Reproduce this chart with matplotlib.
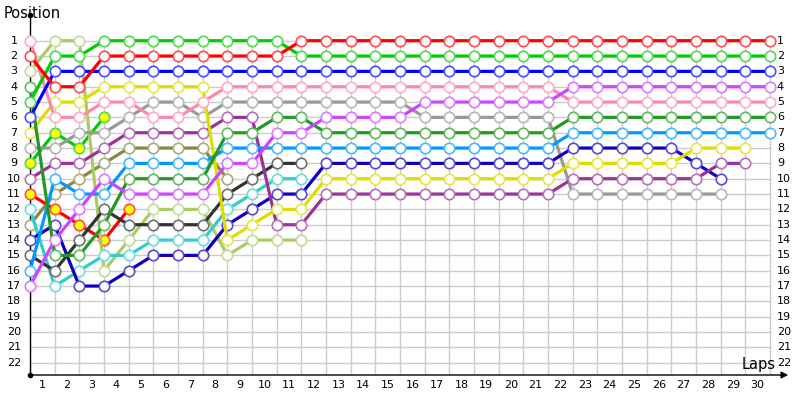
import matplotlib.pyplot as plt
from matplotlib.colors import to_rgb

# positions per lap, index 0 = start grid
red = [2, 4, 4, 2, 2, 2, 2, 2, 2, 2, 2, 1, 1, 1, 1, 1, 1, 1, 1, 1, 1, 1, 1, 1, 1, 1, 1, 1, 1, 1, 1]
green = [5, 2, 2, 1, 1, 1, 1, 1, 1, 1, 1, 2, 2, 2, 2, 2, 2, 2, 2, 2, 2, 2, 2, 2, 2, 2, 2, 2, 2, 2, 2]
blue = [6, 3, 3, 3, 3, 3, 3, 3, 3, 3, 3, 3, 3, 3, 3, 3, 3, 3, 3, 3, 3, 3, 3, 3, 3, 3, 3, 3, 3, 3, 3]
violet = [17, 14, 12, 10, 11, 11, 11, 11, 9, 9, 7, 7, 6, 6, 6, 6, 5, 5, 5, 5, 5, 5, 4, 4, 4, 4, 4, 4, 4, 4, 4]
pink = [1, 6, 6, 5, 5, 6, 6, 5, 4, 4, 4, 4, 4, 4, 4, 4, 4, 4, 4, 4, 4, 4, 5, 5, 5, 5, 5, 5, 5, 5, 5]
dkgreen = [4, 15, 15, 13, 10, 10, 10, 10, 7, 7, 6, 6, 7, 7, 7, 7, 7, 7, 7, 7, 7, 7, 6, 6, 6, 6, 6, 6, 6, 6, 6]
sky = [16, 10, 11, 11, 9, 9, 9, 9, 8, 8, 8, 8, 8, 8, 8, 8, 8, 8, 8, 8, 8, 8, 7, 7, 7, 7, 7, 7, 7, 7, 7]
yellow = [7, 5, 5, 4, 4, 4, 4, 4, 14, 13, 12, 12, 10, 10, 10, 10, 10, 10, 10, 10, 10, 10, 9, 9, 9, 9, 9, 8, 8, 8]
purple = [10, 9, 9, 8, 7, 7, 7, 7, 6, 6, 13, 13, 11, 11, 11, 11, 11, 11, 11, 11, 11, 11, 10, 10, 10, 10, 10, 10, 9, 9]
navy = [14, 13, 17, 17, 16, 15, 15, 15, 13, 12, 11, 11, 9, 9, 9, 9, 9, 9, 9, 9, 9, 9, 8, 8, 8, 8, 8, 9, 10]
gray = [8, 8, 7, 7, 6, 5, 5, 6, 5, 5, 5, 5, 5, 5, 5, 5, 6, 6, 6, 6, 6, 6, 11, 11, 11, 11, 11, 11, 11]
black = [15, 16, 14, 12, 13, 13, 13, 13, 11, 10, 9, 9]
cyan = [12, 17, 16, 15, 15, 14, 14, 14, 12, 11, 10, 10]
ltolive = [3, 1, 1, 16, 14, 12, 12, 12, 15, 14, 14, 14]
olive = [13, 11, 10, 9, 8, 8, 8, 8, 10]
red2 = [11, 12, 13, 14, 12]
green2 = [9, 7, 8, 6]

drivers = [
    (green2, '#00cc00', True),
    (red2, '#ff0000', True),
    (olive, '#888844', False),
    (ltolive, '#aacc66', False),
    (cyan, '#33cccc', False),
    (black, '#333333', False),
    (gray, '#999999', False),
    (navy, '#1100bb', False),
    (purple, '#993399', False),
    (yellow, '#dddd00', False),
    (sky, '#0099ff', False),
    (dkgreen, '#229922', False),
    (pink, '#ff88aa', False),
    (violet, '#cc44ff', False),
    (blue, '#0000ff', False),
    (green, '#00cc00', False),
    (red, '#ff0000', False),
]

n_laps = 30
n_pos = 22
lap_labels = [str(i) for i in range(1, n_laps + 1)]
pos_labels = [str(i) for i in range(1, n_pos + 1)]


def lighter(c, f=0.3):
    r, g, b = to_rgb(c)
    return (r + (1 - r) * f, g + (1 - g) * f, b + (1 - b) * f)


fig = plt.figure(figsize=(8, 4), dpi=100)
ax = fig.add_axes([30 / 800, 25 / 400, 760 / 800, 360 / 400])
ax.set_xlim(0, 30.81)
ax.set_ylim(22.80, -0.676)
ax.axis('off')

# grid
ax.vlines(range(n_laps + 1), 1, 22.8, color='#cccccc', lw=1, zorder=0)
ax.hlines(range(1, n_pos + 1), 0, n_laps, color='#cccccc', lw=1, zorder=0)

# axes lines
ax.plot([0, 0], [-0.676, 22.8], color='black', lw=1, clip_on=False, zorder=1)
ax.plot([0], [-0.676], 'o', color='black', ms=3, clip_on=False)
ax.plot([0], [22.8], 'o', color='black', ms=3, clip_on=False)
ax.annotate('', xy=(30.85, 22.8), xytext=(0, 22.8),
            arrowprops=dict(arrowstyle='-|>', color='black', lw=1, mutation_scale=10),
            annotation_clip=False)

for pos, c, mate in drivers:
    laps = range(len(pos))
    ax.plot(laps, pos, '-o', color=c, lw=2.3, ms=7.5,
            mfc='#ffff00' if mate else 'white', mec=lighter(c), mew=1.2,
            clip_on=False, zorder=2)

for i, s in enumerate(pos_labels):
    ax.text(-0.65, i + 1, s, ha='center', va='center', fontsize=8)
    ax.text(30.28, i + 1, s, ha='left', va='center', fontsize=8)
for i, s in enumerate(lap_labels):
    ax.text(i + 0.5, 23.45, s, ha='center', va='center', fontsize=8)

ax.text(-1.05, -0.75, 'Position', ha='left', va='center', fontsize=10.5)
ax.text(30.24, 22.1, 'Laps', ha='right', va='center', fontsize=10.5)

fig.savefig('out.png', dpi=100)
